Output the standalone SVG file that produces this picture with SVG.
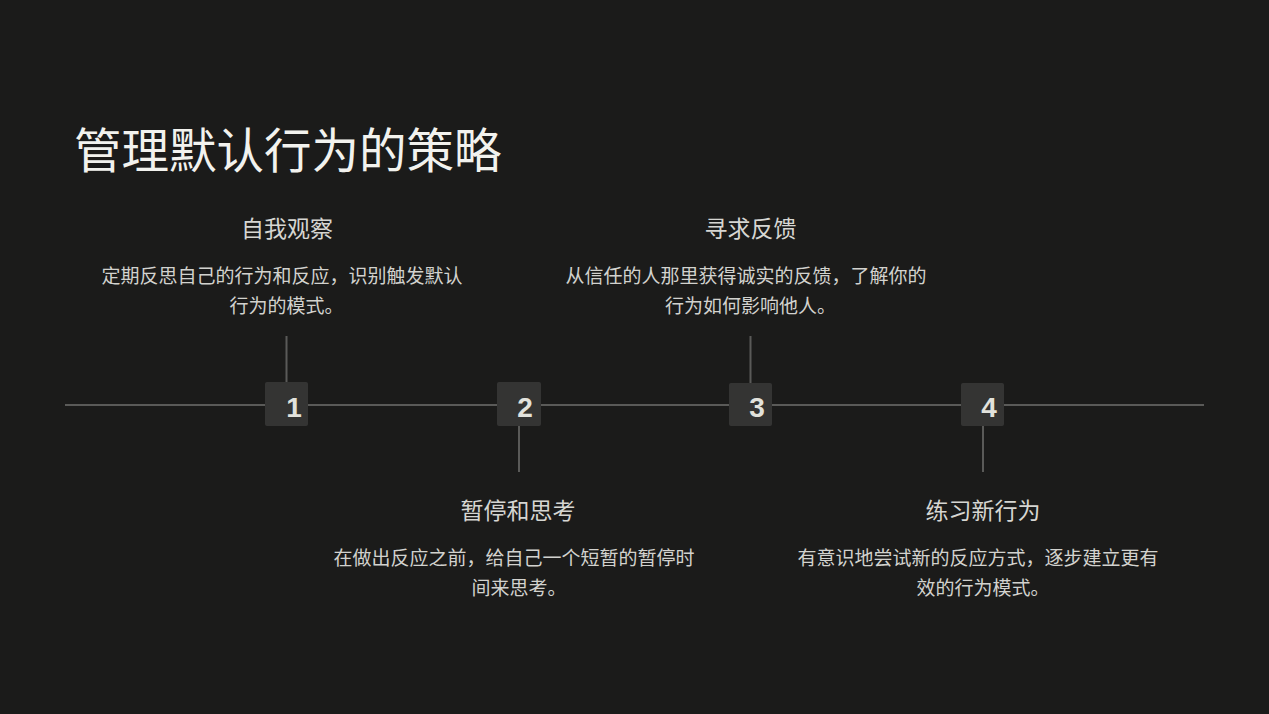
<svg xmlns="http://www.w3.org/2000/svg" width="1269" height="714" viewBox="0 0 1269 714">
<style>
.bg{fill:#1b1b1a}
.title{font-family:"Noto Sans CJK SC","Noto Sans",sans-serif;font-size:47.5px;fill:#f2f2ee}
.head{font-family:"Noto Sans CJK SC","Noto Sans",sans-serif;font-size:23px;fill:#d6d6d2;text-anchor:middle}
.desc{font-family:"Noto Sans CJK SC","Noto Sans",sans-serif;font-size:19px;fill:#d2d2ce;text-anchor:middle}
.box{fill:#343433}
.num{font-family:"Liberation Sans",Arial,sans-serif;font-weight:bold;font-size:28px;fill:#e2e2dc;text-anchor:middle}
.ln{stroke:#5a5a58;stroke-width:2;fill:none}
</style>
<rect class="bg" x="0" y="0" width="1269" height="714"/>
<text class="title" x="74" y="168">管理默认行为的策略</text>
<g id="connectors">
<line class="ln" x1="65" y1="405" x2="1204" y2="405"/>
<line class="ln" x1="286.5" y1="336" x2="286.5" y2="383"/>
<line class="ln" x1="519" y1="426" x2="519" y2="472"/>
<line class="ln" x1="750.5" y1="336" x2="750.5" y2="383"/>
<line class="ln" x1="983" y1="426" x2="983" y2="472"/>
</g>
<g id="step1">
<rect class="box" x="265" y="382" width="43" height="44" rx="2"/>
<text class="num" x="294" y="417">1</text>
<text class="head" x="287" y="237">自我观察</text>
<text class="desc" x="282" y="283">定期反思自己的行为和反应，识别触发默认</text>
<text class="desc" x="286.5" y="313">行为的模式。</text>
</g>
<g id="step2">
<rect class="box" x="497" y="382" width="44" height="44" rx="2"/>
<text class="num" x="525" y="417">2</text>
<text class="head" x="518" y="519">暂停和思考</text>
<text class="desc" x="514" y="565">在做出反应之前，给自己一个短暂的暂停时</text>
<text class="desc" x="519" y="595">间来思考。</text>
</g>
<g id="step3">
<rect class="box" x="729" y="383" width="43" height="43" rx="2"/>
<text class="num" x="757" y="417">3</text>
<text class="head" x="750.5" y="237">寻求反馈</text>
<text class="desc" x="746" y="283">从信任的人那里获得诚实的反馈，了解你的</text>
<text class="desc" x="750.5" y="313">行为如何影响他人。</text>
</g>
<g id="step4">
<rect class="box" x="961" y="383" width="43" height="43" rx="2"/>
<text class="num" x="989" y="417">4</text>
<text class="head" x="983" y="519">练习新行为</text>
<text class="desc" x="978" y="565">有意识地尝试新的反应方式，逐步建立更有</text>
<text class="desc" x="983" y="595">效的行为模式。</text>
</g>
</svg>
